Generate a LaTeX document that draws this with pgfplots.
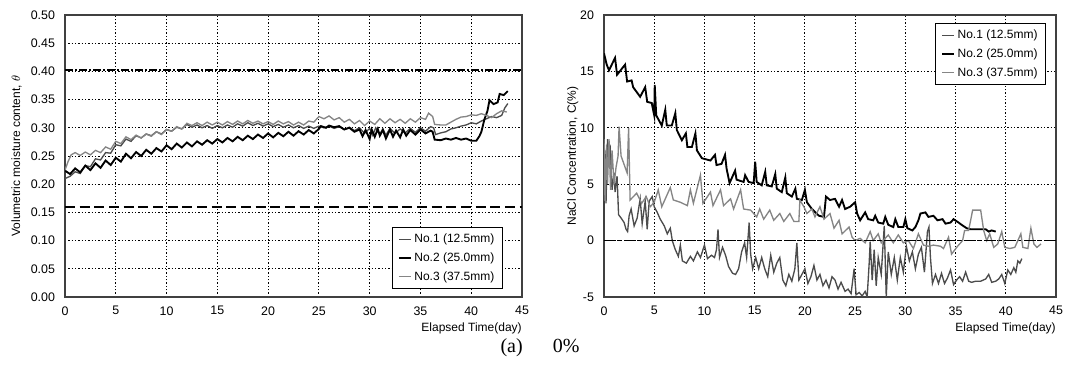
\documentclass[border=0pt]{standalone}
\usepackage{pgfplots}
\pgfplotsset{compat=1.18}
\usepackage{fontspec}
\setmainfont{Liberation Sans}
\newfontfamily\capfont{Liberation Serif}
\definecolor{cone}{gray}{0.30}
\definecolor{cthree}{gray}{0.52}
\begin{document}
\begin{tikzpicture}
\path[use as bounding box] (0,0) rectangle (807.75pt,277.5pt);
\pgfplotsset{
  myaxis/.style={
    scale only axis, anchor=south west,
    height=211.5pt,
    xmin=0, xmax=45, xtick={0,5,...,45},
    grid=major,
    major grid style={black, line width=0.7pt, dash pattern=on 0.9pt off 1.6pt},
    major tick length=0pt,
    axis line style={black!75, line width=0.8pt},
    tick label style={font=\fontsize{9.3}{11}\selectfont},
    label style={font=\fontsize{9}{11}\selectfont},
    /pgf/number format/assume math mode=true,
    xticklabel style={yshift=-3.5pt},
    yticklabel style={xshift=-4pt},
    xlabel={Elapsed Time(day)},
    xlabel style={at={(rel axis cs:1,0)}, anchor=north east, yshift=-19.5pt, inner sep=0pt},
    legend cell align=left,
    legend style={draw=black, line width=0.6pt, font=\fontsize{9}{11}\selectfont, row sep=2pt, inner xsep=4pt, inner ysep=3pt},
    legend image code/.code={\draw[#1] (0pt,0pt) -- (9pt,0pt);},
  },
  s1/.style={cone, line width=1pt},
  s2/.style={black, line width=1.4pt},
  s3/.style={cthree, line width=1pt},
}
% ---------------- left ----------------
\begin{axis}[myaxis,
  at={(48.75pt,54.75pt)}, width=342.75pt,
  ymin=0, ymax=0.5, ytick={0,0.05,...,0.51},
  yticklabel style={/pgf/number format/.cd, fixed, fixed zerofill, precision=2},
  ylabel={Volumetric moisture content, $\theta$},
  ylabel style={at={(rel axis cs:-0.106,0.5)}, anchor=center},
  legend style={at={(0.958,0.028)}, anchor=south east},
]
\addplot[s1] coordinates {
(0,0.210)(0.5,0.214)(1,0.222)(1.5,0.219)(2,0.233)(2.5,0.231)(3,0.245)(3.5,0.243)(4,0.256)(4.5,0.255)
(5,0.270)(5.5,0.268)(6,0.280)(6.5,0.276)(7,0.286)(7.5,0.282)(8,0.289)(8.5,0.286)(9,0.293)(9.5,0.289)
(10,0.297)(10.5,0.294)(11,0.301)(11.5,0.298)(12,0.306)(12.5,0.301)(13,0.305)(13.5,0.300)(14,0.304)(14.5,0.299)
(15,0.304)(15.5,0.300)(16,0.305)(16.5,0.301)(17,0.307)(17.5,0.303)(18,0.309)(18.5,0.304)(19,0.308)(19.5,0.303)
(20,0.307)(20.5,0.302)(21,0.306)(21.5,0.301)(22,0.305)(22.5,0.300)(23,0.304)(23.5,0.299)(24,0.303)(24.5,0.299)
(25,0.303)(25.5,0.300)(26,0.303)(26.5,0.299)(27,0.302)(27.5,0.297)(28,0.301)(28.5,0.295)(29,0.300)(29.5,0.290)
(30,0.299)(30.3,0.287)(30.6,0.300)(31,0.289)(31.3,0.298)(31.6,0.287)(32,0.299)(32.5,0.290)(33,0.298)(33.5,0.291)
(34,0.299)(34.5,0.292)(35,0.300)(35.5,0.294)(36,0.302)(36.3,0.300)(36.5,0.288)(37,0.291)(37.5,0.293)(38,0.298)
(38.5,0.300)(39,0.303)(39.5,0.305)(40,0.309)(40.5,0.307)(41,0.312)(41.5,0.316)(42,0.320)(42.5,0.318)(43,0.322)
(43.3,0.335)(43.6,0.343)};
\addlegendentry{No.1 (12.5mm)}
\addplot[s2] coordinates {
(0,0.224)(0.5,0.218)(1,0.228)(1.5,0.221)(2,0.233)(2.5,0.225)(3,0.237)(3.5,0.229)(4,0.242)(4.5,0.234)
(5,0.247)(5.5,0.240)(6,0.254)(6.5,0.246)(7,0.257)(7.5,0.250)(8,0.261)(8.5,0.254)(9,0.264)(9.5,0.258)
(10,0.269)(10.5,0.262)(11,0.272)(11.5,0.265)(12,0.274)(12.5,0.267)(13,0.276)(13.5,0.270)(14,0.278)(14.5,0.272)
(15,0.280)(15.5,0.274)(16,0.282)(16.5,0.276)(17,0.284)(17.5,0.278)(18,0.286)(18.5,0.280)(19,0.288)(19.5,0.282)
(20,0.290)(20.5,0.283)(21,0.291)(21.5,0.285)(22,0.293)(22.5,0.286)(23,0.294)(23.5,0.288)(24,0.296)(24.5,0.290)
(25,0.298)(25.2,0.303)(25.7,0.300)(26,0.304)(26.5,0.301)(27,0.303)(27.5,0.297)(28,0.300)(28.5,0.293)(29,0.297)
(29.3,0.285)(29.6,0.296)(30,0.280)(30.2,0.297)(30.5,0.284)(30.8,0.298)(31,0.286)(31.3,0.296)(31.6,0.281)(32,0.297)
(32.3,0.284)(32.6,0.295)(33,0.283)(33.3,0.297)(33.6,0.286)(34,0.296)(34.5,0.288)(35,0.297)(35.5,0.290)(36,0.295)
(36.2,0.293)(36.4,0.279)(37,0.278)(37.5,0.281)(38,0.279)(38.5,0.282)(39,0.279)(39.5,0.281)(40,0.277)(40.5,0.277)
(40.8,0.285)(41,0.293)(41.3,0.315)(41.6,0.330)(41.8,0.349)(42.2,0.342)(42.6,0.345)(42.8,0.360)(43.2,0.358)(43.6,0.365)};
\addlegendentry{No.2 (25.0mm)}
\addplot[s3] coordinates {
(0,0.225)(0.3,0.240)(0.6,0.252)(1,0.256)(1.5,0.251)(2,0.257)(2.5,0.252)(3,0.260)(3.5,0.256)(4,0.266)
(4.5,0.262)(5,0.276)(5.5,0.272)(6,0.284)(6.5,0.279)(7,0.287)(7.5,0.282)(8,0.289)(8.5,0.285)(9,0.293)
(9.5,0.288)(10,0.297)(10.5,0.294)(11,0.302)(11.5,0.298)(12,0.308)(12.5,0.304)(13,0.309)(13.5,0.304)(14,0.310)
(14.5,0.305)(15,0.310)(15.5,0.305)(16,0.311)(16.5,0.306)(17,0.312)(17.5,0.307)(18,0.313)(18.5,0.308)(19,0.312)
(19.5,0.307)(20,0.311)(20.5,0.306)(21,0.312)(21.5,0.307)(22,0.311)(22.5,0.305)(23,0.310)(23.5,0.305)(24,0.312)
(24.5,0.310)(25,0.320)(25.5,0.316)(26,0.321)(26.5,0.314)(27,0.318)(27.5,0.310)(28,0.315)(28.5,0.307)(29,0.313)
(29.5,0.304)(30,0.312)(30.5,0.306)(31,0.316)(31.5,0.308)(32,0.316)(32.5,0.309)(33,0.315)(33.5,0.308)(34,0.316)
(34.5,0.310)(35,0.318)(35.5,0.315)(35.8,0.326)(36.2,0.320)(36.4,0.306)(37,0.305)(37.5,0.305)(38,0.310)(38.5,0.315)
(39,0.319)(39.5,0.320)(40,0.323)(40.5,0.322)(41,0.325)(41.5,0.322)(42,0.318)(42.5,0.325)(43,0.330)(43.5,0.328)};
\addlegendentry{No.3 (37.5mm)}
\addplot[forget plot, black, line width=1.2pt, dash pattern=on 6pt off 1.5pt on 1.5pt off 1.5pt] coordinates {(0,0.402)(45,0.402)};
\addplot[forget plot, black, line width=1.2pt, dash pattern=on 7.5pt off 3.5pt] coordinates {(0,0.16)(45,0.16)};
\end{axis}
% ---------------- right ----------------
\begin{axis}[myaxis,
  at={(453pt,54.75pt)}, width=339pt,
  ymin=-5, ymax=20, ytick={-5,0,...,20},
  ylabel={NaCl Concentration, C(\%)},
  ylabel style={at={(rel axis cs:-0.069,0.5)}, anchor=center},
  legend style={at={(0.978,0.972)}, anchor=north east},
]
\addplot[s1] coordinates {
(0,3.5)(0.1,8.0)(0.2,3.3)(0.35,9.0)(0.5,6.5)(0.6,8.5)(0.8,4.5)(1.0,6.0)(1.1,4.3)(1.3,5.7)
(1.45,2.3)(1.7,2.0)(2.0,1.6)(2.2,1.0)(2.35,0.8)(2.5,2.2)(2.7,2.8)(3.0,1.3)(3.3,2.0)(3.6,3.7)
(3.8,1.5)(4.1,3.5)(4.3,1.0)(4.5,3.5)(4.8,3.9)(5.0,3.0)(5.3,2.5)(5.6,1.9)(6.0,1.3)(6.3,0.6)
(6.6,1.1)(6.8,0.0)(7.1,-0.8)(7.4,-1.4)(7.6,-0.4)(7.8,-1.8)(8.2,-2.0)(8.6,-1.4)(8.9,-1.8)(9.3,-1.0)
(9.6,-1.5)(10.0,-0.4)(10.3,-1.6)(10.7,-1.3)(11.0,-1.5)(11.2,-0.8)(11.35,1.0)(11.5,-1.5)(11.8,-0.6)(12.1,-1.3)
(12.4,-2.3)(12.8,-2.9)(13.1,-3.0)(13.4,-2.5)(13.7,-1.0)(14.0,-0.2)(14.2,-1.5)(14.45,1.6)(14.6,-1.2)(14.8,-2.5)
(15.1,-1.5)(15.4,-2.5)(15.7,-1.5)(16.0,-2.5)(16.3,-3.2)(16.6,-1.3)(16.9,-2.8)(17.2,-2.0)(17.5,-1.5)(17.8,-3.5)
(18.1,-4.0)(18.4,-3.0)(18.7,-3.6)(19.0,-2.5)(19.2,-0.2)(19.4,-3.5)(19.7,-3.0)(20.0,-2.5)(20.3,-3.8)(20.6,-3.2)
(20.9,-2.2)(21.2,-3.5)(21.5,-3.0)(21.8,-4.0)(22.1,-3.5)(22.4,-4.2)(22.7,-3.2)(23.0,-3.5)(23.3,-4.3)(23.6,-3.7)
(24.0,-4.5)(24.3,-4.3)(24.6,-4.7)(24.9,-2.5)(25.1,-4.8)(25.4,-4.6)(25.7,-4.9)(26.0,-4.5)(26.2,-5.0)(26.4,-2.0)
(26.5,-0.1)(26.7,-3.5)(26.9,-0.8)(27.1,-4.0)(27.3,-1.5)(27.6,-3.0)(27.9,1.3)(28.1,-5.0)(28.3,-1.0)(28.6,-3.0)
(28.9,-1.5)(29.2,-3.5)(29.5,-1.5)(29.8,-2.8)(30.1,-0.5)(30.4,-1.8)(30.7,-1.0)(31.0,-2.5)(31.3,-1.2)(31.6,-0.6)
(31.9,-2.8)(32.2,0.8)(32.35,1.2)(32.5,-1.5)(32.7,-3.8)(33.0,-3.0)(33.3,-3.8)(33.6,-2.9)(33.9,-3.8)(34.2,-3.3)
(34.5,-2.6)(34.8,-3.9)(35.1,-3.5)(35.4,-3.2)(35.7,-3.6)(36.0,-2.8)(36.3,-3.6)(36.6,-3.7)(37.0,-3.6)(37.5,-3.6)
(38.0,-3.4)(38.3,-3.0)(38.6,-3.7)(39.0,-3.6)(39.3,-3.4)(39.6,-3.0)(39.9,-3.8)(40.2,-2.6)(40.5,-3.0)(40.8,-2.4)
(41.0,-2.8)(41.2,-1.8)(41.4,-2.0)(41.6,-1.6)};
\addlegendentry{No.1 (12.5mm)}
\addplot[s2] coordinates {
(0,16.6)(0.27,15.6)(0.5,15.1)(1.1,16.2)(1.3,14.7)(2.1,15.6)(2.3,14.1)(2.75,14.2)(2.9,13.6)(3.6,12.75)
(4.1,13.6)(4.3,12.3)(4.75,12.2)(5.0,11.1)(5.05,13.8)(5.2,11.1)(5.75,10.2)(6.1,11.6)(6.25,10.2)(6.75,10.2)
(7.1,11.3)(7.25,9.8)(7.75,8.9)(8.15,9.5)(8.3,8.3)(8.75,8.3)(9.1,9.5)(9.25,8.0)(9.75,7.3)(10.6,7.1)
(11.05,7.6)(11.2,6.7)(11.7,6.8)(12.05,7.6)(12.2,6.4)(12.5,5.1)(13.05,6.2)(13.2,5.4)(13.9,5.2)(14.05,5.8)
(14.4,5.2)(14.9,5.1)(15.05,7.0)(15.2,5.2)(15.7,4.9)(16.05,6.1)(16.2,4.9)(16.7,4.8)(17.05,5.9)(17.2,4.6)
(17.7,4.3)(18.05,5.6)(18.2,4.2)(18.7,3.9)(19.05,4.6)(19.2,3.7)(19.7,3.6)(20.0,4.5)(20.2,3.4)(20.7,2.8)
(21.4,2.2)(21.9,2.1)(22.1,3.9)(22.5,3.6)(23.0,3.7)(23.4,3.0)(23.7,3.6)(24.0,2.8)(24.5,3.0)(25.0,3.4)
(25.2,2.4)(25.5,1.8)(26.0,2.5)(26.3,1.9)(26.8,1.8)(27.0,2.2)(27.3,1.6)(27.8,1.5)(28.0,2.1)(28.3,1.4)
(28.8,1.2)(29.0,1.9)(29.3,1.2)(29.8,1.2)(30.0,1.9)(30.2,1.1)(30.7,0.9)(31.0,1.2)(31.3,1.8)(31.5,2.4)
(32.0,2.5)(32.3,2.1)(32.8,2.2)(33.2,1.8)(33.7,1.9)(34.0,1.5)(34.5,1.6)(34.8,1.9)(35.3,1.6)(35.6,1.4)
(36.1,1.1)(36.5,1.0)(38.0,1.0)(38.3,0.8)(38.6,0.9)(39.0,0.8)};
\addlegendentry{No.2 (25.0mm)}
\addplot[s3] coordinates {
(0,9.0)(0.1,3.5)(0.25,8.5)(0.35,5.0)(0.5,9.0)(0.65,4.5)(0.8,8.0)(1.0,5.0)(1.2,6.5)(1.4,7.5)
(1.5,10.1)(1.7,7.5)(1.9,7.0)(2.1,6.5)(2.3,6.0)(2.45,10.0)(2.6,3.6)(3.25,4.2)(3.75,3.3)(4.2,3.9)
(4.6,3.0)(5.0,3.4)(5.4,4.5)(5.75,3.0)(6.6,4.7)(6.9,3.6)(7.6,3.4)(8.3,3.1)(8.6,4.5)(8.9,3.3)
(9.6,5.8)(9.85,3.3)(10.6,4.3)(10.85,3.1)(11.6,4.5)(11.9,3.1)(12.6,3.7)(12.9,2.8)(13.6,4.5)(13.9,2.8)
(14.6,2.7)(15.2,2.1)(15.5,2.8)(15.9,1.9)(16.5,2.7)(16.9,1.8)(17.5,2.4)(17.9,1.7)(18.5,2.4)(18.9,1.7)
(19.4,1.7)(19.5,3.6)(19.9,3.0)(20.2,2.4)(20.7,2.8)(21.0,2.1)(21.5,3.0)(21.9,1.9)(22.5,2.4)(22.9,1.1)
(23.4,1.8)(23.7,0.6)(24.4,1.2)(24.7,0.3)(25.0,0.0)(25.5,0.2)(26.0,-0.2)(26.5,0.8)(26.8,0.0)(27.3,0.6)
(27.6,-0.2)(28.3,0.5)(28.8,-0.2)(29.3,0.5)(29.8,-0.2)(30.3,0.0)(30.8,-0.7)(31.3,0.6)(31.8,-0.4)(32.3,-0.5)
(32.8,-0.4)(33.5,-0.5)(33.8,-0.7)(34.3,0.3)(34.6,-1.2)(35.2,-0.5)(35.7,0.0)(35.9,0.9)(36.3,0.9)(36.7,2.7)
(37.5,2.7)(37.8,0.9)(38.1,0.0)(38.4,0.6)(38.8,-0.6)(39.2,-0.3)(39.6,0.8)(39.9,-0.6)(40.4,-0.7)(40.9,-0.6)
(41.5,0.6)(41.7,-0.6)(42.2,-0.7)(42.5,1.1)(42.8,-0.3)(43.1,-0.6)(43.5,-0.3)};
\addlegendentry{No.3 (37.5mm)}
\addplot[forget plot, black, line width=1.2pt, dash pattern=on 9pt off 2pt on 2pt off 2pt] coordinates {(0,0)(45,0)};
\end{axis}
\node[font=\capfont\fontsize{15}{17}\selectfont, anchor=base] at (405pt,13pt) {(a)\hspace{1.5em}0\%};
\end{tikzpicture}
\end{document}
